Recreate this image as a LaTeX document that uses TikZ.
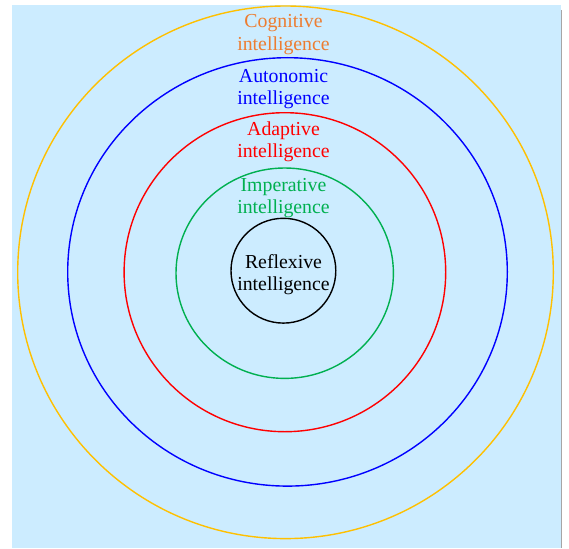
\documentclass[tikz,border=0pt]{standalone}
\usepackage{fontspec}
\setmainfont{Liberation Serif}
\definecolor{skybg}{HTML}{CCECFF}
\definecolor{cogorange}{HTML}{ED7D31}
\definecolor{ringgold}{HTML}{FFC000}
\definecolor{impgreen}{HTML}{00B050}
\begin{document}
\begin{tikzpicture}[
    x=1pt, y=-1pt,
    /tikz/font=\fontsize{19.8}{22.4}\selectfont,
    ring/.style={line width=1.4pt},
    ringlabel/.style={align=center, inner sep=0pt},
  ]
  \useasboundingbox (0,0) rectangle (569,548);
  % backdrop
  \fill[skybg] (12,5) rectangle (561,548);
  \draw[gray!70, line width=0.8pt] (561,10) -- (561,548);

  % nested rings, outermost first
  \draw[ring, draw=ringgold] (285.5,272.3) ellipse [x radius=267.8, y radius=266.3];
  \draw[ring, draw=blue] (287.5,271.9) ellipse [x radius=219.8, y radius=214.2];
  \draw[ring, draw=red] (284.9,272.2) ellipse [x radius=160.8, y radius=159.5];
  \draw[ring, draw=impgreen] (284.7,273.2) ellipse [x radius=108.7, y radius=105.2];
  \draw[ring, draw=black] (283.4,270.7) ellipse [x radius=52.4, y radius=52.4];

  % ring labels
  \node[ringlabel, text=cogorange] (cog) at (283.5,34.6) {Cognitive\\intelligence};
  \node[ringlabel, text=blue] (auto) at (283.5,88.9) {Autonomic\\intelligence};
  \node[ringlabel, text=red] (adapt) at (283.5,141.5) {Adaptive\\intelligence};
  \node[ringlabel, text=impgreen] (imp) at (283.5,198.3) {Imperative\\intelligence};
  \node[ringlabel, text=black] (refl) at (283.5,274.5) {Reflexive\\intelligence};
\end{tikzpicture}
\end{document}
